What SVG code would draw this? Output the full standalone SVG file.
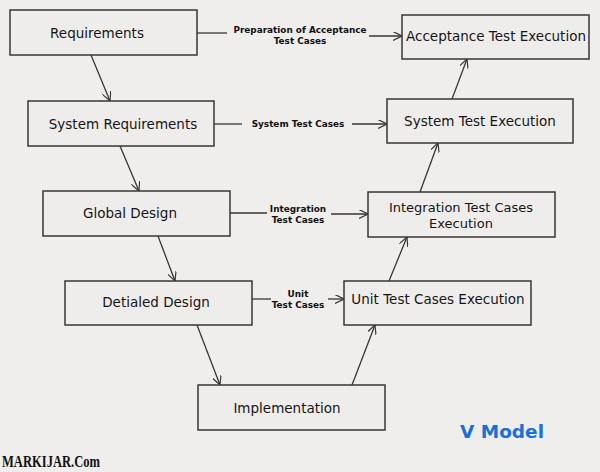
<svg xmlns="http://www.w3.org/2000/svg" width="600" height="472" viewBox="0 0 600 472">
<style>
.box{fill:#efedec;stroke:#3b3533;stroke-width:1.5}
.t{font-family:"DejaVu Sans",Verdana,sans-serif;font-size:13.5px;fill:#151515;text-anchor:middle;dominant-baseline:central}
.l{font-family:"DejaVu Sans",Verdana,sans-serif;font-size:8.9px;font-weight:bold;fill:#111;text-anchor:middle;dominant-baseline:central}
.c{stroke:#3b3533;stroke-width:1.3;fill:none}
.a{marker-end:url(#ah)}
</style>
<defs>
<marker id="ah" viewBox="0 0 10 10" refX="10" refY="5" markerWidth="9" markerHeight="9" markerUnits="userSpaceOnUse" orient="auto">
<path d="M0,0 L10,5 L0,10" fill="none" stroke="#3b3533" stroke-width="1.3"/>
</marker>
</defs>
<rect width="600" height="472" fill="#efeeed"/>
<g id="connectors">
<line class="c a" x1="91" y1="55" x2="110" y2="101"/>
<line class="c a" x1="120" y1="146" x2="139" y2="191"/>
<line class="c a" x1="158" y1="236" x2="175" y2="281"/>
<line class="c a" x1="197" y1="325" x2="220" y2="385"/>
<line class="c a" x1="352" y1="385" x2="375" y2="325"/>
<line class="c a" x1="389" y1="281" x2="407" y2="237"/>
<line class="c a" x1="420" y1="192" x2="438" y2="143"/>
<line class="c a" x1="452" y1="99" x2="467" y2="59"/>
<line class="c" x1="197" y1="33" x2="227" y2="33"/>
<line class="c a" x1="369" y1="36" x2="402" y2="36"/>
<line class="c" x1="214" y1="124" x2="242" y2="124"/>
<line class="c a" x1="352" y1="124" x2="387" y2="124"/>
<line class="c" x1="230" y1="213" x2="267" y2="213"/>
<line class="c a" x1="331" y1="214" x2="368" y2="214"/>
<line class="c" x1="252" y1="299" x2="271" y2="299"/>
<line class="c a" x1="328" y1="299" x2="344" y2="299"/>
<text class="l" x="300" y="30">Preparation of Acceptance</text>
<text class="l" x="300" y="41">Test Cases</text>
<text class="l" x="298" y="124">System Test Cases</text>
<text class="l" x="298" y="209">Integration</text>
<text class="l" x="298" y="220">Test Cases</text>
<text class="l" x="298" y="294">Unit</text>
<text class="l" x="298" y="305">Test Cases</text>
</g>
<g id="requirements"><rect class="box" x="10" y="10" width="187" height="45"/><text class="t" x="97" y="33">Requirements</text></g>
<g id="system-requirements"><rect class="box" x="28" y="101" width="186" height="45"/><text class="t" x="123" y="124">System Requirements</text></g>
<g id="global-design"><rect class="box" x="43" y="191" width="187" height="45"/><text class="t" x="130" y="213">Global Design</text></g>
<g id="detailed-design"><rect class="box" x="65" y="281" width="187" height="44"/><text class="t" x="156" y="302">Detialed Design</text></g>
<g id="implementation"><rect class="box" x="198" y="385" width="187" height="45"/><text class="t" x="287" y="408">Implementation</text></g>
<g id="unit-test"><rect class="box" x="344" y="281" width="187" height="44"/><text class="t" x="438" y="299">Unit Test Cases Execution</text></g>
<g id="integration-test"><rect class="box" x="368" y="192" width="187" height="45"/><text class="t" x="461" y="207" style="font-size:13px">Integration Test Cases</text><text class="t" x="461" y="223" style="font-size:13px">Execution</text></g>
<g id="system-test"><rect class="box" x="387" y="99" width="186" height="44"/><text class="t" x="480" y="121">System Test Execution</text></g>
<g id="acceptance-test"><rect class="box" x="402" y="15" width="187" height="44"/><text class="t" x="496" y="36">Acceptance Test Execution</text></g>
<text x="502" y="438" font-family="'DejaVu Sans',Verdana,sans-serif" font-size="18.5" font-weight="bold" fill="#1a6fd8" text-anchor="middle">V Model</text>
<text x="2" y="467" font-family="'Liberation Serif','Times New Roman',serif" font-size="17.5" font-weight="bold" fill="#111" textLength="98" lengthAdjust="spacingAndGlyphs">MARKIJAR.Com</text>
</svg>
